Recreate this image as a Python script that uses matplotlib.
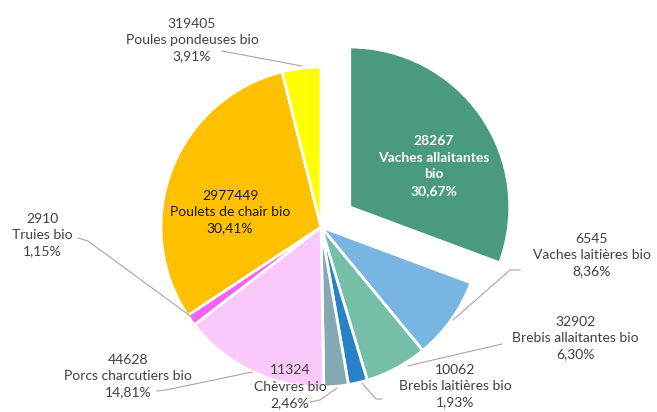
import matplotlib.pyplot as plt

# data (percent shares and head counts)
labels = ['Vaches allaitantes bio', 'Vaches laitières bio', 'Brebis allaitantes bio',
          'Brebis laitières bio', 'Chèvres bio', 'Porcs charcutiers bio', 'Truies bio',
          'Poulets de chair bio', 'Poules pondeuses bio']
counts = ['28267', '6545', '32902', '10062', '11324', '44628', '2910', '2977449', '319405']
shares = [30.67, 8.36, 6.30, 1.93, 2.46, 14.81, 1.15, 30.41, 3.91]
colors = ['#4a9a80', '#78b5e3', '#75bfa8', '#2a82c6', '#85a9b3', '#fbc8fb',
          '#f860f8', '#ffc000', '#ffff00']
explode = [35, 0, 0, 0, 0, 0, 0, 0, 0]  # in pixel units (pie radius is 160)

plt.rcParams['font.family'] = ['Lato', 'DejaVu Sans']
txt = '#404040'

fig = plt.figure(figsize=(6.57, 4.12), dpi=100)
ax = fig.add_axes([0, 0, 1, 1])

H = 412
R = 160
ax.pie(shares, colors=colors, explode=explode, startangle=90, counterclock=False,
       radius=R, center=(321, H - 227), frame=True,
       wedgeprops=dict(edgecolor='white', linewidth=2))
ax.set_xlim(0, 657)
ax.set_ylim(0, 412)
ax.axis('off')

def pct(v):
    return f'{v:.2f}%'.replace('.', ',')

# label centres (pixels) and leader lines
pos = {
    0: (434, 166),
    1: (592, 255),
    2: (575, 338),
    3: (455, 386),
    4: (290, 387),
    5: (128, 376),
    6: (42, 235),
    7: (230, 212),
    8: (192, 40),
}
leaders = {
    1: [(520, 270), (510, 270), (453, 320)],
    2: [(502, 344), (420, 363), (408, 366)],
    3: [(382, 399), (376, 399), (362, 383)],
    4: [(310, 402), (320, 400), (337, 388)],
    5: [(157, 391), (166, 390), (252, 372)],
    6: [(78, 238), (88, 241), (193, 318)],
    8: [(222, 51), (302, 66)],
}

for i, lab in enumerate(labels):
    x, y = pos[i]
    s = f'{counts[i]}\n{lab}\n{pct(shares[i])}'
    if i == 0:
        s = f'{counts[i]}\nVaches allaitantes\nbio\n{pct(shares[i])}'
        ax.text(x, H - y, s, ha='center', va='center', color='white',
                fontsize=10, fontweight='bold', linespacing=1.45)
    else:
        ax.text(x, H - y, s, ha='center', va='center', color=txt if i != 7 else '#1a1a1a',
                fontsize=10, linespacing=1.45)
    if i in leaders:
        xs = [p[0] for p in leaders[i]]
        ys = [H - p[1] for p in leaders[i]]
        ax.plot(xs, ys, color='#a6a6a6', lw=0.8)

fig.savefig('out.png', dpi=100)
